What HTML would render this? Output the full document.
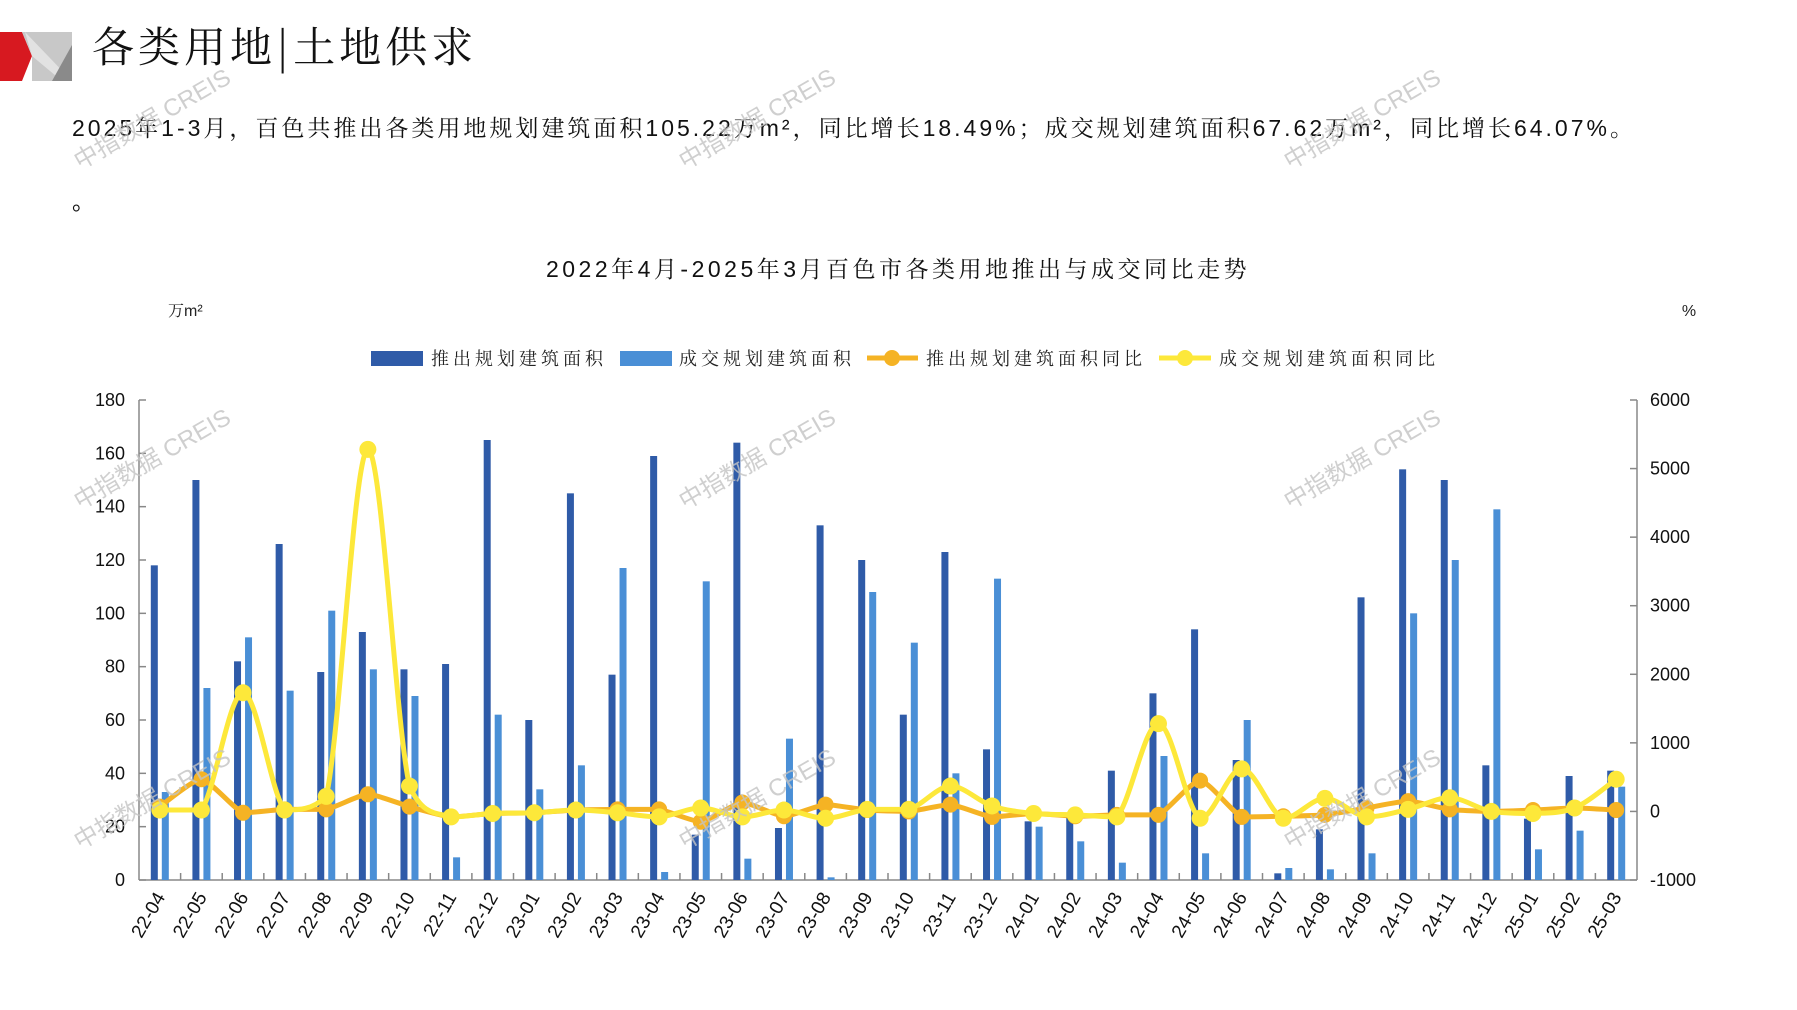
<!DOCTYPE html>
<html><head><meta charset="utf-8"><style>
html,body{margin:0;padding:0;background:#fff;}
body{width:1797px;height:1010px;overflow:hidden;position:relative;font-family:"Liberation Sans","Noto Sans CJK SC",sans-serif;}
</style></head><body>
<svg id="s" width="1797" height="1010" xmlns="http://www.w3.org/2000/svg" style="position:absolute;left:0;top:0">
<polygon points="0,32 22,32 32,56 22,81 0,81" fill="#d71920"/>
<polygon points="22,32 72,32 72,81 32,81 32,56" fill="#c8c8c8"/>
<polygon points="25,32 72,81 62,81 32,56" fill="#e2e2e2"/>
<polygon points="72,45 72,81 52,81" fill="#8a8a8a"/>
<text x="92" y="62" font-size="42" letter-spacing="4" font-family="'Noto Serif CJK SC','Liberation Serif',serif" fill="#111">各类用地|土地供求</text>
<text x="72" y="136" font-size="23" letter-spacing="3" font-family="'Liberation Sans','Noto Serif CJK SC',serif" fill="#111">2025年1-3月，百色共推出各类用地规划建筑面积105.22万m²，同比增长18.49%；成交规划建筑面积67.62万m²，同比增长64.07%。</text>
<text x="72" y="210" font-size="22" fill="#111">。</text>
<text x="898" y="277" font-size="23" letter-spacing="3.5" text-anchor="middle" font-family="'Liberation Sans','Noto Serif CJK SC',serif" fill="#111">2022年4月-2025年3月百色市各类用地推出与成交同比走势</text>
<text x="168" y="316" font-size="16" fill="#222" font-family="'Liberation Sans','Noto Serif CJK SC',serif">万m²</text>
<text x="1689" y="316" font-size="16" fill="#222" text-anchor="middle">%</text>
<g font-size="18" letter-spacing="4" font-family="'Liberation Sans','Noto Serif CJK SC',serif" fill="#222">
<rect x="371" y="351" width="52" height="15" fill="#2f5ba8"/><text x="431" y="365">推出规划建筑面积</text>
<rect x="620" y="351" width="52" height="15" fill="#4a8fd6"/><text x="679" y="365">成交规划建筑面积</text>
<line x1="867" y1="358" x2="918" y2="358" stroke="#f5b324" stroke-width="5"/><circle cx="892" cy="358" r="8" fill="#f5b324"/><text x="926" y="365">推出规划建筑面积同比</text>
<line x1="1159" y1="358" x2="1211" y2="358" stroke="#fde83a" stroke-width="5"/><circle cx="1185" cy="358" r="8" fill="#fde83a"/><text x="1219" y="365">成交规划建筑面积同比</text>
</g>
<g id="chart"></g>
<g fill="#c4c4c4" font-size="24" opacity="0.8">
<text transform="translate(80,170) rotate(-30)">中指数据 CREIS</text>
<text transform="translate(685,170) rotate(-30)">中指数据 CREIS</text>
<text transform="translate(1290,170) rotate(-30)">中指数据 CREIS</text>
<text transform="translate(80,510) rotate(-30)">中指数据 CREIS</text>
<text transform="translate(685,510) rotate(-30)">中指数据 CREIS</text>
<text transform="translate(1290,510) rotate(-30)">中指数据 CREIS</text>
<text transform="translate(80,850) rotate(-30)">中指数据 CREIS</text>
<text transform="translate(685,850) rotate(-30)">中指数据 CREIS</text>
<text transform="translate(1290,850) rotate(-30)">中指数据 CREIS</text>
</g>
</svg>
<script>
var labs=["22-04","22-05","22-06","22-07","22-08","22-09","22-10","22-11","22-12","23-01","23-02","23-03","23-04","23-05","23-06","23-07","23-08","23-09","23-10","23-11","23-12","24-01","24-02","24-03","24-04","24-05","24-06","24-07","24-08","24-09","24-10","24-11","24-12","25-01","25-02","25-03"];
var d1=[118,150,82,126,78,93,79,81,165,60,145,77,159,17,164,19.5,133,120,62,123,49,22,24,41,70,94,45,2.5,19,106,154,150,43,23,39,41];
var d2=[33,72,91,71,101,79,69,8.5,62,34,43,117,3,112,8,53,1,108,89,40,113,20,14.5,6.5,46.5,10,60,4.5,4,10,100,120,139,11.5,18.5,35];
var o=[70,470,-20,30,30,250,70,-80,-30,-20,20,30,30,-150,130,-70,100,20,0,100,-80,-30,-70,-50,-50,450,-80,-70,-50,50,150,30,0,20,50,20];
var yl=[20,20,1730,20,220,5280,370,-80,-30,-20,20,-20,-80,50,-80,20,-100,30,30,370,80,-30,-50,-80,1280,-100,620,-100,190,-80,30,200,0,-30,50,470];
var X0=139,X1=1637,W=(X1-X0)/36,Y0=880,Y1=400;
function yL(v){return Y0-v/180*(Y0-Y1);}
function yR(p){return Y0-(p+1000)/7000*(Y0-Y1);}
var h='';
h+='<line x1="'+X0+'" y1="'+Y1+'" x2="'+X0+'" y2="'+Y0+'" stroke="#888" stroke-width="1.5"/>';
h+='<line x1="'+X1+'" y1="'+Y1+'" x2="'+X1+'" y2="'+Y0+'" stroke="#888" stroke-width="1.5"/>';
h+='<line x1="'+X0+'" y1="'+Y0+'" x2="'+X1+'" y2="'+Y0+'" stroke="#888" stroke-width="1.5"/>';
for(var v=0;v<=180;v+=20){var y=yL(v);h+='<line x1="'+(X0)+'" y1="'+y+'" x2="'+(X0+7)+'" y2="'+y+'" stroke="#888" stroke-width="1.5"/><text x="125" y="'+(y+6)+'" font-size="18" text-anchor="end" fill="#111">'+v+'</text>';}
for(var p=-1000;p<=6000;p+=1000){var y=yR(p);h+='<line x1="'+(X1-7)+'" y1="'+y+'" x2="'+X1+'" y2="'+y+'" stroke="#888" stroke-width="1.5"/><text x="1650" y="'+(y+6)+'" font-size="18" fill="#111">'+p+'</text>';}
for(var i=1;i<36;i++){var x=X0+i*W;h+='<line x1="'+x+'" y1="'+(Y0-7)+'" x2="'+x+'" y2="'+Y0+'" stroke="#888" stroke-width="1.5"/>';}
for(var i=0;i<36;i++){var c=X0+(i+0.5)*W;
h+='<rect x="'+(c-9)+'" y="'+yL(d1[i])+'" width="7" height="'+(Y0-yL(d1[i]))+'" fill="#2f5ba8"/>';
h+='<rect x="'+(c+2)+'" y="'+yL(d2[i])+'" width="7" height="'+(Y0-yL(d2[i]))+'" fill="#4a8fd6"/>';
h+='<text transform="translate('+(c+6)+',897) rotate(-60)" font-size="19" text-anchor="end" fill="#111">'+labs[i]+'</text>';}
function cl(v,a,b){var lo=Math.min(a,b),hi=Math.max(a,b);return Math.max(lo,Math.min(hi,v));}
function path(arr,smooth){var pts=arr.map(function(p,i){return [X0+(i+0.5)*W,yR(p)];});
var s='M'+pts[0][0]+','+pts[0][1];
for(var i=0;i<pts.length-1;i++){var p0=pts[Math.max(0,i-1)],p1=pts[i],p2=pts[i+1],p3=pts[Math.min(pts.length-1,i+2)];var t=smooth/6;
var c1y=cl(p1[1]+(p2[1]-p0[1])*t,p1[1],p2[1]),c2y=cl(p2[1]-(p3[1]-p1[1])*t,p1[1],p2[1]);
s+=' C'+(p1[0]+(p2[0]-p0[0])*t)+','+c1y+' '+(p2[0]-(p3[0]-p1[0])*t)+','+c2y+' '+p2[0]+','+p2[1];}
return {d:s,pts:pts};}
var po=path(o,0.6),py=path(yl,1);
h+='<path d="'+po.d+'" fill="none" stroke="#f5b324" stroke-width="5"/>';
po.pts.forEach(function(p){h+='<circle cx="'+p[0]+'" cy="'+p[1]+'" r="8" fill="#f5b324"/>';});
h+='<path d="'+py.d+'" fill="none" stroke="#fde83a" stroke-width="5"/>';
py.pts.forEach(function(p){h+='<circle cx="'+p[0]+'" cy="'+p[1]+'" r="8.5" fill="#fde83a"/>';});
document.getElementById('chart').innerHTML=h;
</script>
</body></html>
